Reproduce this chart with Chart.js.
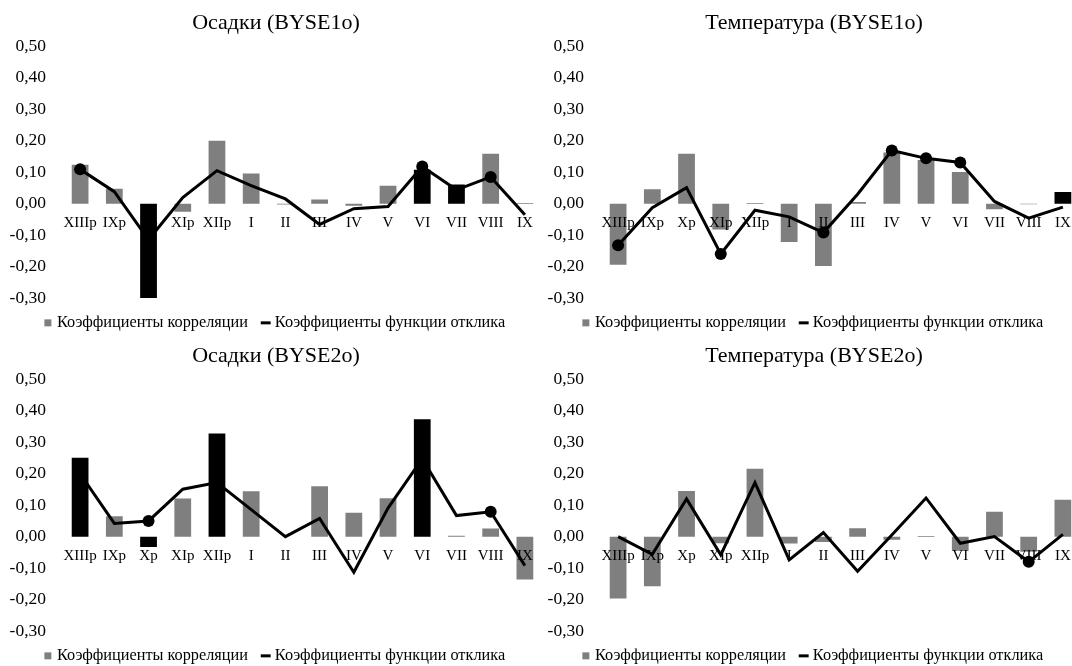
<!DOCTYPE html>
<html lang="ru">
<head>
<meta charset="utf-8">
<title>Осадки и температура (BYSE1o, BYSE2o)</title>
<script src="https://cdn.jsdelivr.net/npm/chart.js@4.4.1/dist/chart.umd.min.js"></script>
<style>
  html, body { margin: 0; padding: 0; background: #fff; overflow: hidden; }
  #page { position: relative; width: 1072px; height: 666px; overflow: hidden; background: #fff; }
  .panel { position: absolute; }
</style>
</head>
<body>
<div id="page">
  <canvas id="c1" class="panel" width="548" height="341" style="left:0;top:0"></canvas>
  <canvas id="c2" class="panel" width="548" height="341" style="left:538px;top:0"></canvas>
  <canvas id="c3" class="panel" width="548" height="341" style="left:0;top:333px"></canvas>
  <canvas id="c4" class="panel" width="548" height="341" style="left:538px;top:333px"></canvas>
</div>
<script>
// months of the current and previous (р) year
const categories = ['XIIIр', 'IXр', 'Xр', 'XIр', 'XIIр', 'I', 'II', 'III', 'IV', 'V', 'VI', 'VII', 'VIII', 'IX'];
const seriesNames = ['Коэффициенты корреляции', 'Коэффициенты функции отклика'];
const yTicks = [-0.3, -0.2, -0.1, 0, 0.1, 0.2, 0.3, 0.4, 0.5];

const titles = ['Осадки (BYSE1o)', 'Температура (BYSE1o)', 'Осадки (BYSE2o)', 'Температура (BYSE2o)'];

// Осадки (BYSE1o)
const corr1 = [0.124, 0.047, -0.30, -0.026, 0.20, 0.096, -0.003, 0.013, -0.007, 0.057, 0.108, 0.061, 0.159, 0.002];
const corrSig1 = [0, 0, 1, 0, 0, 0, 0, 0, 0, 0, 1, 1, 0, 0];
const resp1 = [0.109, 0.038, -0.115, 0.019, 0.105, 0.057, 0.015, -0.066, -0.016, -0.009, 0.118, 0.044, 0.085, -0.035];
const respSig1 = [1, 0, 0, 0, 0, 0, 0, 0, 0, 0, 1, 0, 1, 0];

// Температура (BYSE1o)
const corr2 = [-0.194, 0.046, 0.159, -0.082, 0.002, -0.122, -0.198, 0.005, 0.163, 0.139, 0.101, -0.018, -0.002, 0.037];
const corrSig2 = [0, 0, 0, 0, 0, 0, 0, 0, 0, 0, 0, 0, 0, 1];
const resp2 = [-0.132, -0.013, 0.051, -0.16, -0.021, -0.042, -0.092, 0.03, 0.169, 0.144, 0.131, 0.007, -0.046, -0.011];
const respSig2 = [1, 0, 0, 1, 0, 0, 1, 0, 1, 1, 1, 0, 0, 0];

// Осадки (BYSE2o)
const corr3 = [0.251, 0.065, -0.033, 0.121, 0.328, 0.144, 0.0, 0.16, 0.076, 0.122, 0.373, 0.003, 0.026, -0.136];
const corrSig3 = [1, 0, 1, 0, 1, 0, 0, 0, 0, 0, 1, 0, 0, 0];
const resp3 = [0.2, 0.042, 0.05, 0.151, 0.172, 0.086, 0.0, 0.058, -0.113, 0.091, 0.248, 0.067, 0.079, -0.092];
const respSig3 = [1, 0, 1, 0, 0, 0, 0, 0, 0, 0, 1, 0, 1, 0];

// Температура (BYSE2o)
const corr4 = [-0.197, -0.158, 0.145, -0.021, 0.216, -0.022, -0.017, 0.027, -0.01, 0.002, -0.045, 0.079, -0.048, 0.117];
const corrSig4 = [0, 0, 0, 0, 0, 0, 0, 0, 0, 0, 0, 0, 0, 0];
const resp4 = [0.0, -0.056, 0.12, -0.058, 0.172, -0.074, 0.013, -0.11, 0.005, 0.123, -0.021, 0.0, -0.08, 0.007];
const respSig4 = [0, 0, 0, 0, 0, 0, 0, 0, 0, 0, 0, 0, 1, 0];

const GREY = '#7f7f7f';
const BLACK = '#000000';
const TEXT = '#000000';
const SERIF = "'Liberation Serif', 'Times New Roman', serif";

function makeChart(id, title, corr, corrSig, resp, respSig) {
  const ctx = document.getElementById(id);
  return new Chart(ctx, {
    data: {
      labels: categories,
      datasets: [{
        type: 'bar',
        label: seriesNames[0],
        data: corr,
        backgroundColor: corrSig.map(s => s ? BLACK : GREY),
        borderWidth: 0,
        barPercentage: 0.49,
        categoryPercentage: 1,
        order: 1
      }, {
        type: 'line',
        label: seriesNames[1],
        data: resp,
        borderColor: BLACK,
        borderWidth: 3,
        tension: 0,
        pointRadius: respSig.map(s => s ? 6 : 0),
        pointBackgroundColor: BLACK,
        pointBorderColor: BLACK,
        pointBorderWidth: 0,
        order: 0
      }]
    },
    options: {
      responsive: false,
      animation: false,
      layout: { padding: { left: 10, right: 6, top: 0, bottom: 0 } },
      plugins: {
        title: {
          display: true,
          text: title,
          color: TEXT,
          font: { family: SERIF, size: 22, weight: 'normal', lineHeight: 1.2 },
          padding: { top: 10, bottom: 10 }
        },
        legend: {
          position: 'bottom',
          align: 'center',
          labels: {
            usePointStyle: true,
            boxWidth: 2,
            boxHeight: 7,
            padding: 16.7,
            color: TEXT,
            font: { family: SERIF, size: 16.3 },
            generateLabels: chart => chart.data.datasets.map((ds, i) => ({
              text: ds.label,
              datasetIndex: i,
              fillStyle: i === 0 ? GREY : BLACK,
              strokeStyle: i === 0 ? GREY : BLACK,
              lineWidth: i === 0 ? 0 : 3,
              pointStyle: i === 0 ? 'rect' : 'line',
              fontColor: TEXT,
              hidden: false
            }))
          }
        },
        tooltip: { enabled: false }
      },
      scales: {
        x: {
          position: { y: 0 },
          offset: true,
          grid: { display: false, drawTicks: false },
          border: { display: false },
          ticks: {
            z: 1,   // month labels sit on top of the bars, as in the original
            autoSkip: false,
            maxRotation: 0,
            minRotation: 0,
            padding: 10,
            color: TEXT,
            font: { family: SERIF, size: 15 }
          }
        },
        y: {
          min: yTicks[0],
          max: yTicks[yTicks.length - 1],
          grid: { display: false, drawTicks: false },
          border: { display: false },
          afterBuildTicks: scale => { scale.ticks = yTicks.map(v => ({ value: v })); },
          afterFit: scale => { scale.width = 53; },
          ticks: {
            padding: 17,
            color: TEXT,
            font: { family: SERIF, size: 17.5 },
            callback: v => v.toFixed(2).replace('.', ',')
          }
        }
      }
    }
  });
}

makeChart('c1', titles[0], corr1, corrSig1, resp1, respSig1);
makeChart('c2', titles[1], corr2, corrSig2, resp2, respSig2);
makeChart('c3', titles[2], corr3, corrSig3, resp3, respSig3);
makeChart('c4', titles[3], corr4, corrSig4, resp4, respSig4);
</script>
</body>
</html>
